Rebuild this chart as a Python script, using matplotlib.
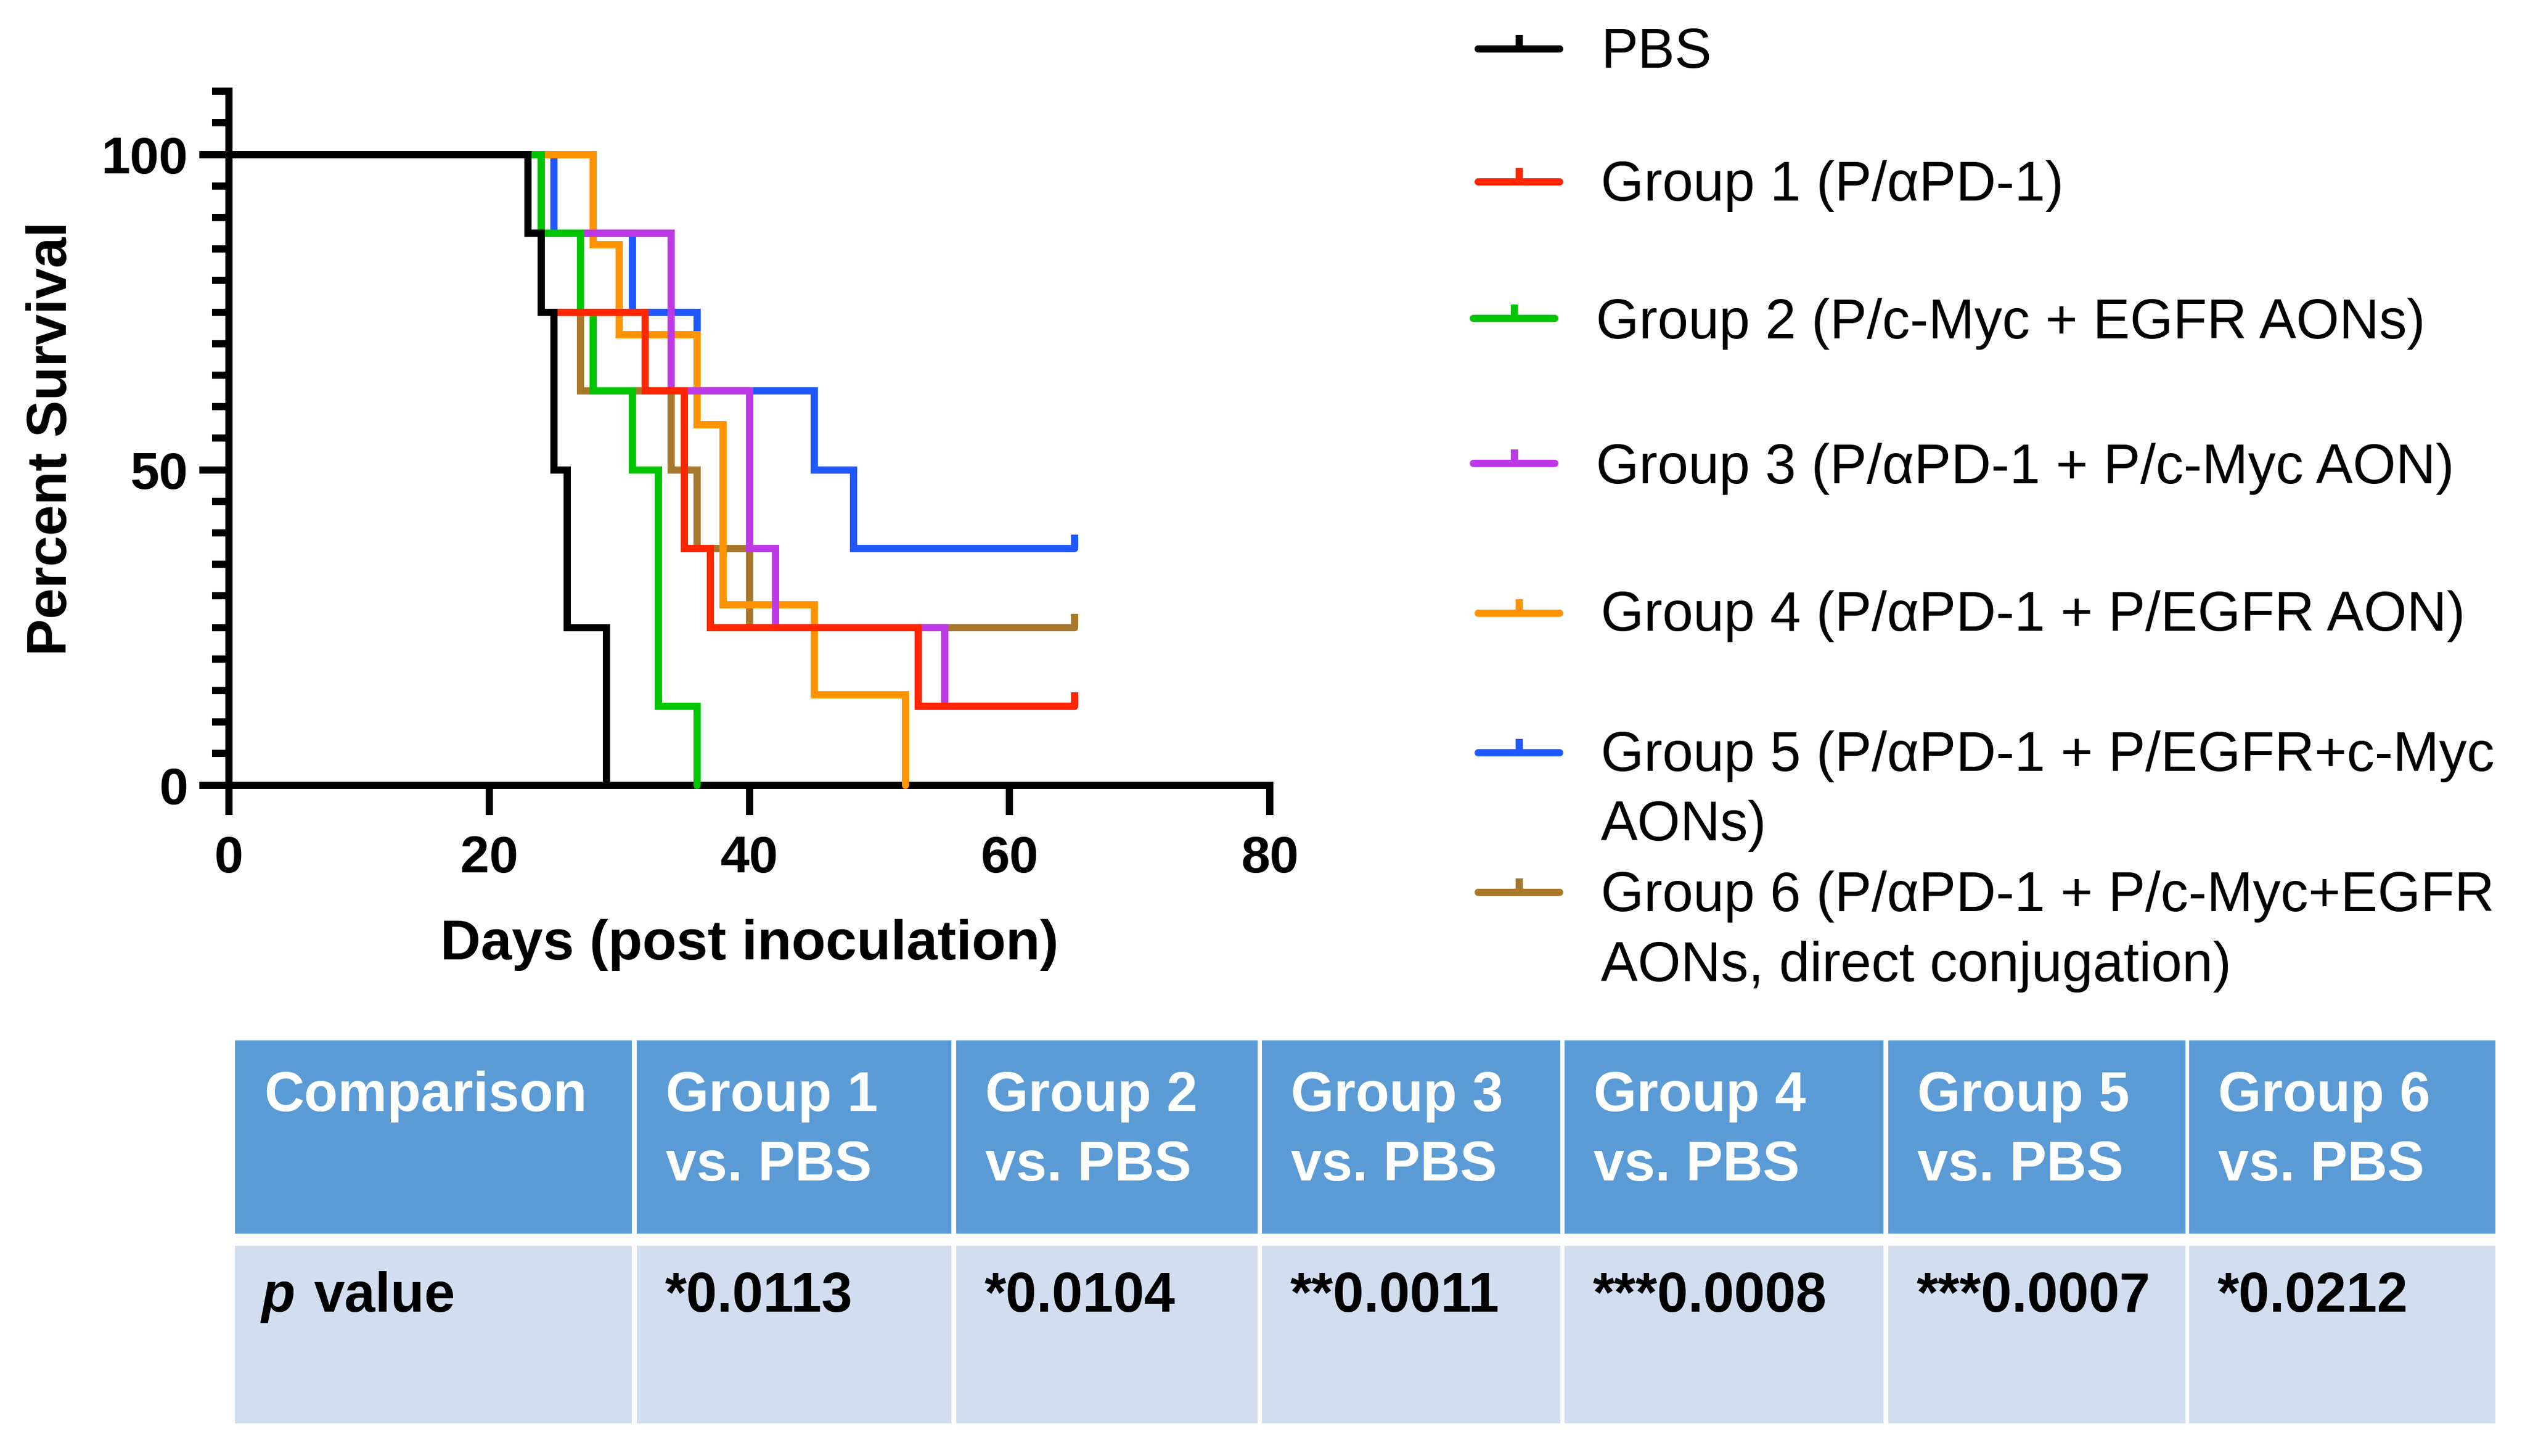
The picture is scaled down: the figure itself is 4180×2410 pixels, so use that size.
import matplotlib
matplotlib.use("Agg")
import matplotlib.pyplot as plt
from matplotlib.lines import Line2D
from matplotlib.patches import Rectangle
from matplotlib.ticker import MultipleLocator

plt.rcParams['font.family'] = ['Liberation Sans', 'DejaVu Sans']

# ---------------- data ----------------
group_labels = [
    ["PBS"],
    ["Group 1 (P/\u03b1PD-1)"],
    ["Group 2 (P/c-Myc + EGFR AONs)"],
    ["Group 3 (P/\u03b1PD-1 + P/c-Myc AON)"],
    ["Group 4 (P/\u03b1PD-1 + P/EGFR AON)"],
    ["Group 5 (P/\u03b1PD-1 + P/EGFR+c-Myc", "AONs)"],
    ["Group 6 (P/\u03b1PD-1 + P/c-Myc+EGFR", "AONs, direct conjugation)"],
]
colors = ["#000000", "#FF2600", "#00C500", "#BD38E6", "#FF9300", "#1F58FF", "#A7782B"]

# event days and percent survival after each event
pbs_days = [23, 24, 25, 26, 29]
pbs_surv = [87.5, 75, 50, 25, 0]
g1_days = [23, 24, 32, 35, 37, 53]
g1_surv = [87.5, 75, 62.5, 37.5, 25, 12.5]
g2_days = [24, 27, 28, 31, 33, 36]
g2_surv = [87.5, 75, 62.5, 50, 12.5, 0]
g3_days = [24, 34, 40, 42, 55]
g3_surv = [87.5, 62.5, 37.5, 25, 12.5]
g4_days = [28, 30, 36, 38, 45, 52]
g4_surv = [85.7, 71.4, 57.1, 28.6, 14.3, 0]
g5_days = [25, 31, 36, 45, 48]
g5_surv = [87.5, 75, 62.5, 50, 37.5]
g6_days = [24, 27, 34, 36, 40]
g6_surv = [75, 62.5, 50, 37.5, 25]
censor_days = [None, 65, None, 65, None, 65, 65]

all_days = [pbs_days, g1_days, g2_days, g3_days, g4_days, g5_days, g6_days]
all_surv = [pbs_surv, g1_surv, g2_surv, g3_surv, g4_surv, g5_surv, g6_surv]

x_ticks = [0, 20, 40, 60, 80]
y_ticks = [0, 50, 100]

table_header = [["Comparison"], ["Group 1", "vs. PBS"], ["Group 2", "vs. PBS"],
                ["Group 3", "vs. PBS"], ["Group 4", "vs. PBS"], ["Group 5", "vs. PBS"],
                ["Group 6", "vs. PBS"]]
p_values = ["*0.0113", "*0.0104", "**0.0011", "***0.0008", "***0.0007", "*0.0212"]

# ---------------- layout ----------------
W, H, DPI = 4180, 2410, 200
fig = plt.figure(figsize=(W / DPI, H / DPI), dpi=DPI)
fig.patch.set_facecolor("white")


def fx(px):
    return px / W


def fy(py):
    return 1 - py / H


ax_l, ax_r, ax_b, ax_t = 379, 2102, 1299.5, 151.2
ax = fig.add_axes([fx(ax_l), fy(ax_b), (ax_r - ax_l) / W, (ax_b - ax_t) / H])

LW = 4.3
zorders = [10, 9, 8, 7, 6, 5, 4]
for i in range(7):
    xs = [0] + list(all_days[i])
    ys = [100] + list(all_surv[i])
    if censor_days[i] is not None:
        xs.append(censor_days[i])
        ys.append(all_surv[i][-1])
    ax.step(xs, ys, where='post', color=colors[i], lw=LW, zorder=zorders[i],
            clip_on=False, solid_capstyle='round', solid_joinstyle='miter')
    if censor_days[i] is not None:
        ax.plot([censor_days[i]], [all_surv[i][-1]], linestyle='none', marker=2,
                ms=8.3, mew=LW, color=colors[i], zorder=zorders[i], clip_on=False)

ax.set_xlim(0, 80)
ax.set_ylim(0, 110)
for s in ['top', 'right']:
    ax.spines[s].set_visible(False)
for s in ['left', 'bottom']:
    ax.spines[s].set_linewidth(LW)
ax.spines['left'].set_bounds(0, 110)
ax.spines['bottom'].set_bounds(0, 80)

ax.set_xticks(x_ticks)
ax.set_yticks(y_ticks)
ax.yaxis.set_minor_locator(MultipleLocator(5))
ax.tick_params(axis='both', which='major', length=17.7, width=LW, labelsize=31)
ax.tick_params(axis='y', which='major', pad=6.7)
ax.tick_params(axis='x', which='major', pad=11.9)
ax.tick_params(axis='y', which='minor', length=10, width=LW)
for lab in ax.get_xticklabels() + ax.get_yticklabels():
    lab.set_fontweight('bold')

ax.set_xlabel("Days (post inoculation)", fontsize=33.3, fontweight='bold')
ax.xaxis.set_label_coords(0.5, -(1588 - ax_b) / (ax_b - ax_t))
ax.xaxis.label.set_va('baseline')
ax.set_ylabel("Percent Survival", fontsize=33, fontweight='bold')
ax.yaxis.set_label_coords((110 - ax_l) / (ax_r - ax_l), 0.5)
ax.yaxis.label.set_va('baseline')

# ---------------- legend (manual) ----------------
leg_line_y = [81, 301, 527, 767, 1015, 1246, 1476.5]
leg_shift = [0, 0, -8, -8, 0, 0, 0]
leg_base = [[112], [332], [560], [800], [1044], [1276, 1391], [1508, 1624]]
for i in range(7):
    x0, x1 = 2447 + leg_shift[i], 2582 + leg_shift[i]
    y = leg_line_y[i]
    fig.add_artist(Line2D([fx(x0), fx(x1)], [fy(y), fy(y)], color=colors[i], lw=LW,
                          solid_capstyle='round', transform=fig.transFigure))
    fig.add_artist(Line2D([fx((x0 + x1) / 2)], [fy(y)], linestyle='none', marker=2,
                          ms=8.3, mew=LW, color=colors[i], transform=fig.transFigure))
    for line, b in zip(group_labels[i], leg_base[i]):
        fig.text(fx(2650 + leg_shift[i]), fy(b), line, fontsize=33, va='baseline',
                 ha='left', color='black')

# ---------------- table ----------------
col_edges = [(389, 1046), (1054, 1575), (1583, 2082), (2089, 2583),
             (2590, 3118), (3126, 3618), (3624, 4131)]
head_top, head_bot = 1722, 2042
body_top, body_bot = 2062, 2355.5
head_color = "#5B9BD5"
body_color = "#D2DEEF"
for j, (l, r) in enumerate(col_edges):
    fig.add_artist(Rectangle((fx(l), fy(head_bot)), (r - l) / W, (head_bot - head_top) / H,
                             facecolor=head_color, edgecolor='none', transform=fig.transFigure))
    fig.add_artist(Rectangle((fx(l), fy(body_bot)), (r - l) / W, (body_bot - body_top) / H,
                             facecolor=body_color, edgecolor='none', transform=fig.transFigure))
    for k, line in enumerate(table_header[j]):
        fig.text(fx(l + 48), fy(1839 + 115 * k), line, fontsize=33, fontweight='bold',
                 color='white', va='baseline', ha='left')
    if j == 0:
        fig.text(fx(432), fy(2171), "p", fontsize=33, fontweight='bold', fontstyle='italic',
                 color='black', va='baseline', ha='left')
        fig.text(fx(520), fy(2171), "value", fontsize=33, fontweight='bold',
                 color='black', va='baseline', ha='left')
    else:
        fig.text(fx(l + 47), fy(2171), p_values[j - 1], fontsize=33, fontweight='bold',
                 color='black', va='baseline', ha='left')

fig.savefig("out.png", dpi=DPI, facecolor='white')
